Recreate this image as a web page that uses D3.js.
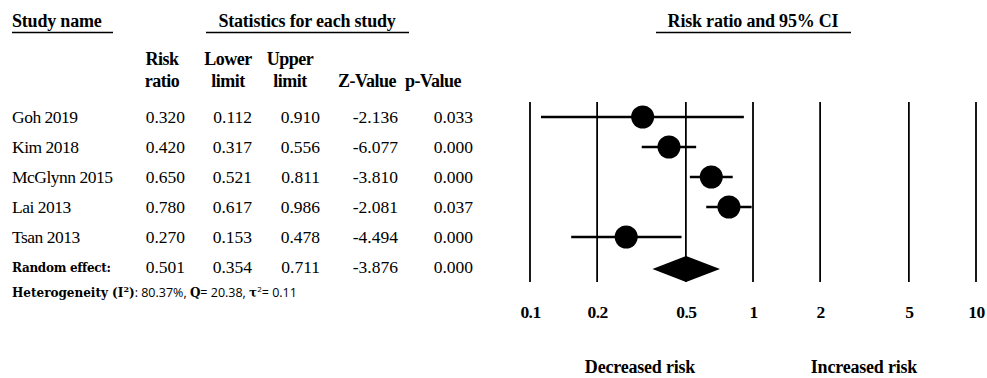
<!DOCTYPE html>
<html><head><meta charset="utf-8">
<script src="https://cdn.jsdelivr.net/npm/d3@7"></script>
<style>html,body{margin:0;padding:0;background:#fff;overflow:hidden}</style>
</head><body>
<svg id="c" width="987" height="378"></svg>
<script>
const studies = ["Goh 2019","Kim 2018","McGlynn 2015","Lai 2013","Tsan 2013"];
const riskRatio = [0.320,0.420,0.650,0.780,0.270];
const lowerLimit = [0.112,0.317,0.521,0.617,0.153];
const upperLimit = [0.910,0.556,0.811,0.986,0.478];
const zValue = ["-2.136","-6.077","-3.810","-2.081","-4.494"];
const pValue = ["0.033","0.000","0.000","0.037","0.000"];
const pooled = {label:"Random effect:", rr:0.501, lo:0.354, hi:0.711, z:"-3.876", p:"0.000"};
const tickValues = [0.1,0.2,0.5,1,2,5,10];
const tickLabels = ["0.1","0.2","0.5","1","2","5","10"];

const svg = d3.select("#c");
const serif = "'Liberation Serif','Times New Roman',serif";
const x = d3.scaleLog().domain([0.1,10]).range([530,976]);
const y = d3.scalePoint().domain(d3.range(6)).range([117,267]);

function hdr(t, xx, yy, anchor, ls){
  return svg.append("text").attr("x",xx).attr("y",yy).attr("text-anchor",anchor||"middle")
   .attr("font-family",serif).attr("font-weight","bold").attr("font-size",18)
   .attr("letter-spacing",ls==null?-0.2:ls).text(t);
}
hdr("Study name",12,27,"start");
svg.append("line").attr("x1",12).attr("x2",113).attr("y1",32.5).attr("y2",32.5).attr("stroke","#000").attr("stroke-width",1.3);
hdr("Statistics for each study",307,27);
svg.append("line").attr("x1",206).attr("x2",409).attr("y1",32.5).attr("y2",32.5).attr("stroke","#000").attr("stroke-width",1.3);
hdr("Risk ratio and 95% CI",753,27);
svg.append("line").attr("x1",656).attr("x2",851).attr("y1",32.5).attr("y2",32.5).attr("stroke","#000").attr("stroke-width",1.3);

const colX = [185,252,320,398,473];
const colCenters = [162,228,290,367,433];
const head1 = ["Risk","Lower","Upper","",""];
const head2 = ["ratio","limit","limit","Z-Value","p-Value"];
head1.forEach((t,i)=>{ if(t) hdr(t,colCenters[i],65,"middle",-0.5); });
head2.forEach((t,i)=>{ hdr(t,colCenters[i],87,"middle",-0.5); });

const fmt = d3.format(".3f");
studies.forEach((s,i)=>{
  const yy = y(i)+6;
  svg.append("text").attr("x",12).attr("y",yy).attr("font-family",serif).attr("font-size",17.5).attr("letter-spacing",-0.5).text(s);
  const vals=[fmt(riskRatio[i]),fmt(lowerLimit[i]),fmt(upperLimit[i]),zValue[i],pValue[i]];
  vals.forEach((v,j)=>svg.append("text").attr("x",colX[j]).attr("y",yy).attr("text-anchor","end")
     .attr("font-family",serif).attr("font-size",17.5).text(v));
});
{
  const yy = y(5)+6;
  svg.append("text").attr("x",12).attr("y",yy-1).attr("font-family","'DejaVu Serif',serif").attr("font-weight","bold").attr("font-size",12).attr("letter-spacing",-0.3).text(pooled.label);
  const vals=[fmt(pooled.rr),fmt(pooled.lo),fmt(pooled.hi),pooled.z,pooled.p];
  vals.forEach((v,j)=>svg.append("text").attr("x",colX[j]).attr("y",yy).attr("text-anchor","end")
     .attr("font-family",serif).attr("font-size",17.5).text(v));
}
const het = svg.append("text").attr("x",12).attr("y",297).attr("font-size",12.5).attr("font-family","'Open Sans',sans-serif");
const bs = "'DejaVu Serif',serif";
het.append("tspan").attr("font-family",bs).attr("font-weight","bold").attr("font-size",12).text("Heterogeneity (I");
het.append("tspan").attr("font-family",bs).attr("font-weight","bold").attr("font-size",8).attr("dy",-5).text("2");
het.append("tspan").attr("font-family",bs).attr("font-weight","bold").attr("font-size",12).attr("dy",5).text(")");
het.append("tspan").text(": 80.37%, ");
het.append("tspan").attr("font-family",bs).attr("font-weight","bold").attr("font-size",12).text("Q");
het.append("tspan").text("= 20.38, ");
het.append("tspan").attr("font-family",bs).attr("font-weight","bold").attr("font-size",12).text("τ");
het.append("tspan").attr("font-size",8).attr("dy",-5).text("2");
het.append("tspan").attr("dy",5).text("= 0.11");

// forest plot
const axis = d3.axisBottom(x).tickValues(tickValues).tickFormat((d,i)=>tickLabels[i]).tickSize(0).tickPadding(0);
const gAxis = svg.append("g").attr("transform","translate(0,300)").call(axis);
gAxis.select(".domain").remove();
gAxis.selectAll("text").attr("font-family",serif).attr("font-weight","bold").attr("font-size",17.5).attr("letter-spacing",-0.6).attr("fill","#000").attr("dy","1.02em");

svg.append("g").selectAll("line").data(tickValues).join("line")
  .attr("x1",d=>x(d)).attr("x2",d=>x(d)).attr("y1",102).attr("y2",282)
  .attr("stroke","#000").attr("stroke-width",1.8);

const g = svg.append("g");
studies.forEach((s,i)=>{
  g.append("line").attr("x1",x(lowerLimit[i])).attr("x2",x(upperLimit[i])).attr("y1",y(i)).attr("y2",y(i))
    .attr("stroke","#000").attr("stroke-width",2.5);
  g.append("circle").attr("cx",x(riskRatio[i])).attr("cy",y(i)).attr("r",11.5).attr("fill","#000");
});
{
  const yc = 269, h = 13;
  g.append("path").attr("d",`M${x(pooled.lo)},${yc} L${x(pooled.rr)},${yc-h} L${x(pooled.hi)},${yc} L${x(pooled.rr)},${yc+h} Z`).attr("fill","#000");
}
hdr("Decreased risk",640,373);
hdr("Increased risk",864,373);
</script>
</body></html>
